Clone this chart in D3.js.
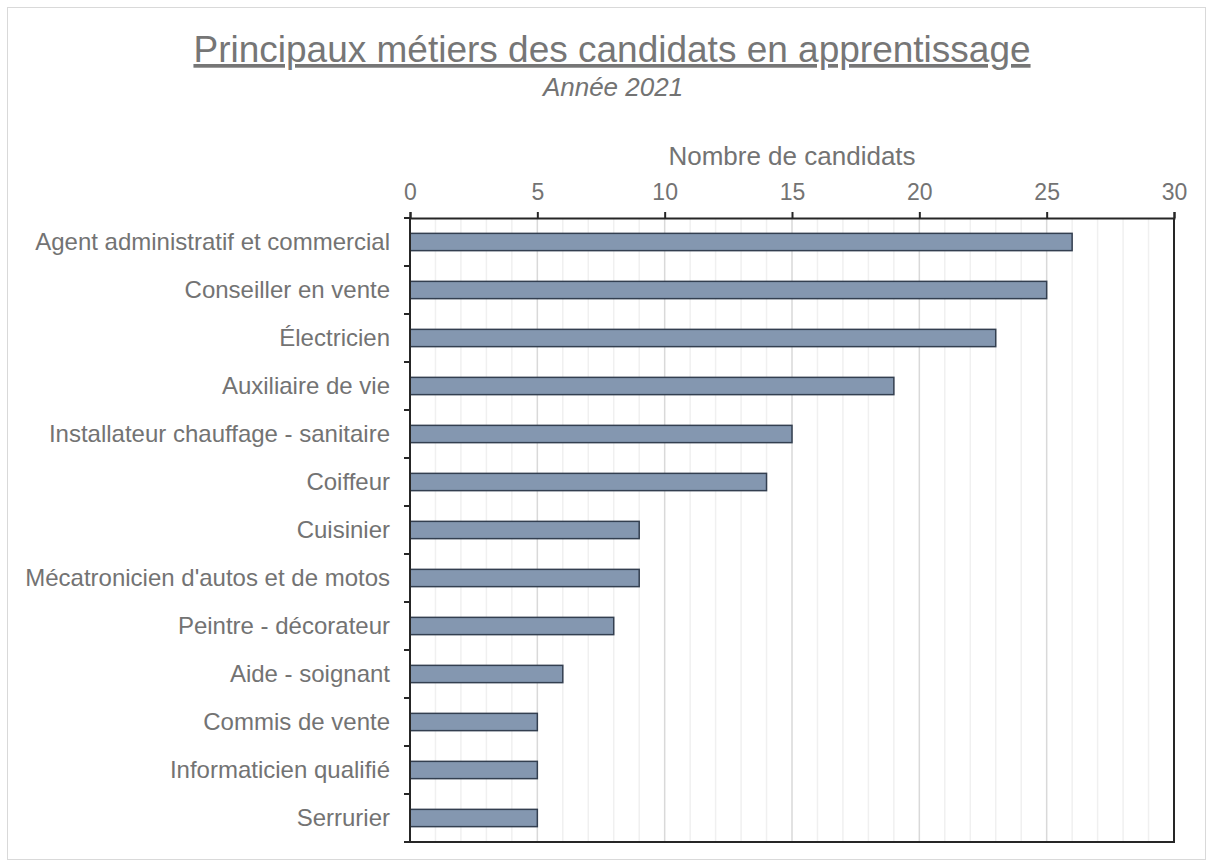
<!DOCTYPE html>
<html>
<head>
<meta charset="utf-8">
<script src="https://cdn.jsdelivr.net/npm/d3@7"></script>
<style>
  html, body { margin: 0; padding: 0; background: #fff; }
  svg { display: block; font-family: "Liberation Sans", Arial, sans-serif; }
</style>
</head>
<body>
<svg id="chart" width="1213" height="867"></svg>
<script>
// Apprenticeship candidates by trade, 2021
const categories = [
  "Agent administratif et commercial",
  "Conseiller en vente",
  "Électricien",
  "Auxiliaire de vie",
  "Installateur chauffage - sanitaire",
  "Coiffeur",
  "Cuisinier",
  "Mécatronicien d'autos et de motos",
  "Peintre - décorateur",
  "Aide - soignant",
  "Commis de vente",
  "Informaticien qualifié",
  "Serrurier"
];
const values = [26, 25, 23, 19, 15, 14, 9, 9, 8, 6, 5, 5, 5];
const tickValues = [0, 5, 10, 15, 20, 25, 30];

(function draw() {
  const svg = d3.select("#chart");
  const W = 1213, H = 867;
  const pL = 410, pR = 1174, pT = 218, pB = 842;
  const textGrey = "#737373";

  // Outer frame
  svg.append("rect")
    .attr("x", 7.5).attr("y", 7.5)
    .attr("width", W - 15).attr("height", H - 15)
    .attr("fill", "#fff").attr("stroke", "#d9d9d9").attr("stroke-width", 1);

  const x = d3.scaleLinear().domain([0, 30]).range([pL, pR]);
  const y = d3.scaleBand().domain(categories).range([pT, pB]).paddingInner(0.64).paddingOuter(0.32);

  // Minor and major vertical gridlines
  const grid = svg.append("g");
  grid.selectAll("line.minor")
    .data(d3.range(1, 30).filter(v => v % 5 !== 0))
    .join("line")
    .attr("class", "minor")
    .attr("x1", d => x(d)).attr("x2", d => x(d))
    .attr("y1", pT).attr("y2", pB)
    .attr("stroke", "#f0f0f0").attr("stroke-width", 1.5);
  grid.selectAll("line.major")
    .data(tickValues.filter(v => v > 0 && v < 30))
    .join("line")
    .attr("class", "major")
    .attr("x1", d => x(d)).attr("x2", d => x(d))
    .attr("y1", pT).attr("y2", pB)
    .attr("stroke", "#d9d9d9").attr("stroke-width", 1.5);

  // Bars
  svg.append("g").selectAll("rect")
    .data(values)
    .join("rect")
    .attr("x", x(0))
    .attr("y", (d, i) => y(categories[i]))
    .attr("width", d => x(d) - x(0))
    .attr("height", y.bandwidth())
    .attr("fill", "#8497b0")
    .attr("stroke", "#333f50")
    .attr("stroke-width", 1.5);

  // Top value axis
  const xAxis = d3.axisTop(x).tickValues(tickValues).tickSize(6).tickPadding(12);
  const gx = svg.append("g").attr("transform", `translate(0,${pT})`).call(xAxis);
  gx.select(".domain").attr("stroke", "#262626").attr("stroke-width", 2);
  gx.selectAll(".tick line").attr("stroke", "#262626").attr("stroke-width", 2);
  gx.selectAll(".tick text")
    .attr("fill", textGrey)
    .style("font-size", "23px")
    .style("font-family", "'Liberation Sans', Arial, sans-serif");

  // Left category axis with ticks at band boundaries
  const gy = svg.append("g").attr("transform", `translate(${pL},0)`);
  gy.append("line")
    .attr("x1", 0).attr("x2", 0).attr("y1", pT).attr("y2", pB)
    .attr("stroke", "#262626").attr("stroke-width", 2);
  const step = y.step();
  gy.selectAll("line.tick")
    .data(d3.range(categories.length + 1))
    .join("line")
    .attr("class", "tick")
    .attr("x1", -6).attr("x2", 0)
    .attr("y1", i => pT + i * step).attr("y2", i => pT + i * step)
    .attr("stroke", "#262626").attr("stroke-width", 2);
  gy.selectAll("text")
    .data(categories)
    .join("text")
    .attr("x", -20)
    .attr("y", d => y(d) + y.bandwidth() / 2)
    .attr("dy", "0.35em")
    .attr("text-anchor", "end")
    .attr("fill", textGrey)
    .style("font-size", "24px")
    .text(d => d);

  // Right and bottom frame of the plot area
  svg.append("line")
    .attr("x1", pR).attr("x2", pR).attr("y1", pT).attr("y2", pB)
    .attr("stroke", "#262626").attr("stroke-width", 2);
  svg.append("line")
    .attr("x1", pL - 6).attr("x2", pR + 1).attr("y1", pB).attr("y2", pB)
    .attr("stroke", "#262626").attr("stroke-width", 2);

  // Axis title
  svg.append("text")
    .attr("x", (pL + pR) / 2).attr("y", 165)
    .attr("text-anchor", "middle")
    .attr("fill", textGrey)
    .style("font-size", "26px")
    .text("Nombre de candidats");

  // Title and subtitle
  svg.append("text")
    .attr("x", 612).attr("y", 62)
    .attr("text-anchor", "middle")
    .attr("fill", "#767676")
    .style("font-size", "37px")
    .style("text-decoration", "underline")
    .text("Principaux métiers des candidats en apprentissage");
  svg.append("text")
    .attr("x", 613).attr("y", 96)
    .attr("text-anchor", "middle")
    .attr("fill", textGrey)
    .style("font-size", "26px")
    .style("font-style", "italic")
    .text("Année 2021");
})();
</script>
</body>
</html>
